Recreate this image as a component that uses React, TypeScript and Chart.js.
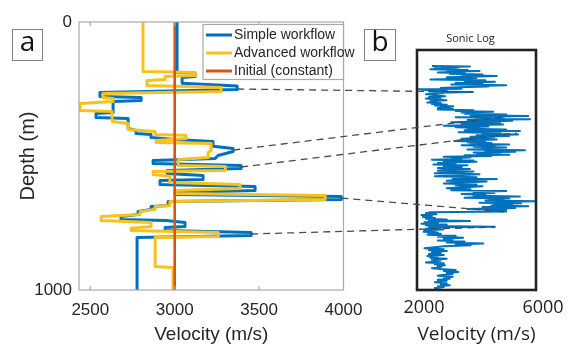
import React, { useEffect, useRef } from 'react';
import { Chart, registerables } from 'chart.js';

Chart.register(...registerables);

// ---------- Panel a : velocity profiles ----------
const simpleDepth = [0, 188, 190, 203, 207, 229, 239, 252, 263, 278, 282, 293, 297, 338, 341, 356, 360, 397, 405, 416, 420, 431, 438, 446, 464, 472, 483, 498, 509, 517, 528, 535, 547, 554, 565, 573, 588, 591, 606, 614, 629, 636, 644, 651, 662, 670, 685, 688, 700, 707, 718, 726, 737, 741, 748, 763, 767, 778, 785, 797, 804, 1000];
const simpleVelocity = [3014, 3014, 3121, 3121, 3044, 3044, 3370, 3370, 2557, 2557, 2801, 2801, 2635, 2635, 2534, 2534, 2724, 2724, 2771, 2771, 2860, 2860, 3002, 3227, 3227, 3346, 3346, 3257, 3240, 2872, 2872, 3393, 3393, 2955, 2955, 3168, 3168, 2913, 2913, 3476, 3476, 3002, 3002, 3987, 3987, 2961, 2961, 2860, 2860, 2783, 2783, 2682, 2682, 2949, 3061, 3061, 2943, 2943, 3453, 3453, 2777, 2777];

const advancedDepth = [0, 185, 188, 200, 203, 215, 218, 237, 244, 259, 267, 282, 285, 297, 304, 330, 334, 371, 379, 401, 409, 420, 423, 435, 442, 450, 453, 479, 487, 506, 513, 535, 539, 554, 558, 569, 576, 599, 606, 621, 629, 640, 647, 662, 670, 685, 688, 700, 707, 718, 726, 741, 748, 763, 770, 778, 785, 800, 804, 912, 916, 1000];
const advancedVelocity = [2812, 2812, 3121, 3121, 2943, 2943, 2836, 2836, 3275, 3275, 2575, 2575, 2635, 2635, 2439, 2439, 2629, 2629, 2724, 2724, 2884, 2884, 3067, 3067, 2890, 2890, 3216, 3216, 3198, 3198, 3021, 3021, 3300, 3300, 2872, 2872, 2972, 2972, 3387, 3387, 3002, 3002, 3891, 3891, 2972, 2972, 2884, 2884, 2795, 2795, 2564, 2564, 2860, 2860, 2742, 2742, 3258, 3258, 2884, 2884, 2990, 2990];

const initialDepth = [0, 1000];
const initialVelocity = [3000, 3000];

const velocityTicksA = [2500, 3000, 3500, 4000];
const depthTicksA = [0, 1000];

// ---------- Panel b : sonic log ----------
const sonicDepth = [67, 69, 71, 73, 75, 78, 80, 83, 86, 88, 91, 94, 96, 99, 102, 105, 108, 111, 114, 117, 120, 123, 126, 129, 132, 135, 138, 141, 144, 147, 150, 152, 155, 158, 161, 164, 167, 170, 173, 175, 178, 180, 184, 187, 190, 193, 196, 199, 202, 206, 209, 212, 216, 219, 221, 225, 228, 231, 234, 237, 240, 242, 245, 248, 251, 254, 257, 260, 263, 266, 269, 272, 275, 278, 280, 283, 286, 289, 292, 295, 298, 301, 304, 307, 310, 313, 316, 319, 322, 325, 328, 331, 334, 337, 340, 343, 346, 349, 352, 355, 358, 361, 364, 367, 370, 373, 376, 379, 382, 385, 388, 391, 394, 397, 400, 403, 406, 409, 412, 415, 418, 421, 424, 427, 430, 433, 436, 439, 442, 445, 448, 451, 454, 457, 460, 463, 466, 469, 471, 474, 477, 480, 484, 488, 492, 496, 499, 503, 506, 510, 514, 518, 522, 526, 530, 534, 538, 541, 545, 548, 552, 556, 560, 564, 568, 572, 576, 580, 584, 588, 592, 596, 600, 603, 607, 610, 613, 616, 619, 622, 624, 627, 630, 633, 636, 639, 642, 645, 648, 651, 654, 658, 662, 666, 670, 673, 676, 680, 684, 688, 692, 696, 700, 703, 706, 709, 712, 715, 718, 721, 724, 727, 730, 733, 736, 739, 742, 745, 748, 751, 754, 757, 760, 763, 766, 770, 774, 778, 782, 786, 790, 794, 798, 802, 806, 810, 814, 818, 822, 826, 830, 834, 838, 842, 846, 850, 854, 858, 862, 866, 870, 874, 878, 881, 885, 889, 893, 897, 901, 905, 909, 913, 917, 921, 925, 929, 933, 937, 941, 945, 949, 953, 957, 961, 964, 968, 972, 976, 980, 984, 988, 992, 996, 1000];
const sonicVelocity = [
  2500, 3780, 2900, 3400, 2600,
  3300, 2450, 3700, 3000, 4100, 3200, 2700, 3600,
  3100, 4200, 3500, 4680, 3800, 3000, 4000,
  3400, 2450, 4300, 3600, 4620, 3900, 3300,
  4200, 3150, 5000, 3900, 4400,
  3400, 2800, 3500, 2050, 2300, 3000, 2400, 3880, 2600, 2900,
  2300, 2700, 2500, 2950, 2400, 2800, 2300, 2600, 2990, 2450, 2700, 2350, 2800,
  2500, 3000, 2600, 3220, 2800, 3100, 2700,
  3200, 2700, 3900, 3300, 4560, 3500, 4000,
  3600, 5000, 3800, 5740, 4300, 3300, 4900,
  4000, 5800, 3700, 5200, 4200, 3150, 4800,
  3500, 4900, 3900, 2900, 4400, 3300, 4100,
  3700, 5000, 3600, 5460, 4200, 3400, 4800,
  4200, 5400, 4000, 5100, 3800, 4600, 4100,
  3500, 4680, 3900, 3250, 4300, 3700, 4500,
  3800, 5100, 3500, 4600, 3900, 5000, 4200,
  4600, 3700, 5630, 4300, 5300, 3900, 4800,
  4000, 5100, 3600, 4500, 2900, 3800, 3200,
  3500, 2500, 3900, 2900, 4000, 3100, 2700,
  3300, 2550, 3700, 2900, 3500, 2700, 3780, 3000,
  2700, 3900, 3100, 2600, 4100, 3300, 2600, 4000, 3200, 4680, 3400,
  3000, 4340, 3500, 2900, 4000, 3300, 4200, 3600, 3000,
  3800, 3150, 5000, 3900, 4600, 3500, 4300,
  3900, 5460, 4200, 3600, 5100, 4400, 4900,
  4300, 5960, 4800, 4100, 5500, 4600, 5200,
  4500, 5740, 4200, 5300, 3700, 5000, 4300, 5000,
  2450,
  2300, 2650, 2150, 2500, 2200, 2600,
  2300, 3000, 2400, 3780, 2800, 2250, 2700,
  2150, 3000, 2300, 2500, 4620, 2400, 2800,
  2300, 2880, 2250, 2600, 2220, 2700, 2400,
  2800, 2350, 3300, 2700, 3550, 2900, 3200,
  2700, 3600, 3000, 4230, 3300, 3800, 2900,
  2600, 2250, 2900, 2400, 3000, 2500, 2800,
  2400, 2900, 2350, 2700, 2450, 3000, 2500, 2800, 2600,
  2300, 2900, 2600, 2940, 2700, 2800, 2500,
  2800, 3300, 2900, 3390, 3000, 3200, 2850,
  2700, 3200, 2900, 3100, 2700, 3000, 2800,
  2600, 3000, 2800, 3100, 2700, 2900, 2600, 2800, 2750,
];
const velocityTicksB = [2000, 6000];

// ---------- Connectors (panel a point -> panel b point) ----------
const connectorVelocityA = [3370, 3346, 3393, 3987, 3453];
const connectorDepthA = [250, 478, 541, 657, 791];
const connectorVelocityB = [3882, 4890, 5360, 5024, 4621];
const connectorDepthB = [175, 279, 346, 675, 738];

const BLUE = '#0072BD';
const YELLOW = '#F9C21A';
const RED = '#D95319';
const FONT_A = "'Liberation Sans', Arial, sans-serif";
const FONT_B = "'Open Sans', 'Noto Sans', sans-serif";
const TEXT_A = '#262626';
const TEXT_B = '#1e1e1e';

const pts = (xs: number[], ys: number[]) => {
  const n = Math.min(xs.length, ys.length);
  const out: { x: number; y: number }[] = [];
  for (let i = 0; i < n; i++) out.push({ x: xs[i], y: ys[i] });
  return out;
};

const lineDs = (label: string, xs: number[], ys: number[], color: string, width: number) => ({
  label,
  data: pts(xs, ys),
  borderColor: color,
  backgroundColor: color,
  borderWidth: width,
  showLine: true,
  pointRadius: 0,
  pointHoverRadius: 0,
  fill: false,
  tension: 0,
  borderJoinStyle: 'round' as const,
  borderCapStyle: 'butt' as const,
});

const plain = (v: any) => String(v);

export default function App() {
  const refA = useRef<HTMLCanvasElement>(null);
  const refB = useRef<HTMLCanvasElement>(null);

  useEffect(() => {
    if (!refA.current || !refB.current) return;

    const frameA = {
      id: 'frameA',
      afterDraw(chart: any) {
        const { ctx, chartArea: ca } = chart;
        const xs = chart.scales.x;
        ctx.save();
        ctx.strokeStyle = '#A8A8A8';
        ctx.lineWidth = 1.2;
        ctx.strokeRect(ca.left, ca.top, ca.right - ca.left, ca.bottom - ca.top);
        ctx.beginPath();
        velocityTicksA.forEach((v) => {
          const px = xs.getPixelForValue(v);
          ctx.moveTo(px, ca.bottom);
          ctx.lineTo(px, ca.bottom - 4);
          ctx.moveTo(px, ca.top);
          ctx.lineTo(px, ca.top + 4);
        });
        ctx.stroke();
        // legend box (inside top-right)
        const lw = 140.5, lh = 55;
        const lx = ca.right - lw, ly = ca.top + 2.5;
        ctx.fillStyle = '#ffffff';
        ctx.fillRect(lx, ly, lw, lh);
        ctx.strokeStyle = '#A8A8A8';
        ctx.lineWidth = 1.2;
        ctx.strokeRect(lx, ly, lw, lh);
        const order = [2, 1, 0];
        order.forEach((di, k) => {
          const ds = chart.data.datasets[di];
          const yy = ly + 10.5 + k * 18;
          ctx.strokeStyle = ds.borderColor;
          ctx.lineWidth = 3;
          ctx.beginPath();
          ctx.moveTo(lx + 3, yy);
          ctx.lineTo(lx + 29, yy);
          ctx.stroke();
          ctx.fillStyle = TEXT_A;
          ctx.font = "14px 'Liberation Sans', Arial, sans-serif";
          ctx.textAlign = 'left';
          ctx.textBaseline = 'middle';
          ctx.fillText(ds.label, lx + 31, yy + 0.5);
        });
        // panel label "a"
        ctx.strokeStyle = '#808080';
        ctx.lineWidth = 1;
        ctx.strokeRect(12.5, 29.5, 30, 31);
        ctx.fillStyle = '#111';
        ctx.font = `28px ${FONT_B}`;
        ctx.textAlign = 'center';
        ctx.textBaseline = 'middle';
        ctx.fillText('a', 27.5, 43);
        ctx.restore();
      },
    };

    const chartA = new Chart(refA.current, {
      type: 'scatter',
      data: {
        datasets: [
          lineDs('Initial (constant)', initialVelocity, initialDepth, RED, 2.6),
          lineDs('Advanced workflow', advancedVelocity, advancedDepth, YELLOW, 3),
          lineDs('Simple workflow', simpleVelocity, simpleDepth, BLUE, 3),
        ],
      },
      options: {
        responsive: false,
        animation: false,
        devicePixelRatio: 1,
        layout: { padding: { left: 0, right: 225.5, top: 22, bottom: 0 } },
        plugins: { legend: { display: false }, tooltip: { enabled: false }, title: { display: false } },
        scales: {
          x: {
            type: 'linear',
            min: 2433,
            max: 4000,
            afterFit: (s: any) => { s.height = 58; },
            afterBuildTicks: (s: any) => { s.ticks = velocityTicksA.map((v) => ({ value: v })); },
            grid: { display: false, drawTicks: false },
            border: { display: false },
            ticks: { font: { family: FONT_A, size: 17 }, color: TEXT_A, padding: 10, maxRotation: 0, autoSkip: false, callback: plain },
            title: { display: true, text: 'Velocity (m/s)', font: { family: FONT_A, size: 19, lineHeight: 1 }, color: TEXT_A, padding: { top: 0, bottom: 3.5 } },
          },
          y: {
            type: 'linear',
            reverse: true,
            min: 0,
            max: 1000,
            afterFit: (s: any) => { s.width = 79; },
            afterBuildTicks: (s: any) => { s.ticks = depthTicksA.map((v) => ({ value: v })); },
            grid: { display: false, drawTicks: false },
            border: { display: false },
            ticks: { font: { family: FONT_A, size: 17 }, color: TEXT_A, padding: 7, autoSkip: false, callback: plain },
            title: { display: true, text: 'Depth (m)', font: { family: FONT_A, size: 20, lineHeight: 1 }, color: TEXT_A, padding: { top: 18, bottom: 0 } },
          },
        },
      } as any,
      plugins: [frameA],
    });

    const frameB = {
      id: 'frameB',
      afterDraw(chart: any) {
        const { ctx, chartArea: ca } = chart;
        ctx.save();
        ctx.strokeStyle = '#222';
        ctx.lineWidth = 2.6;
        ctx.strokeRect(ca.left, ca.top, ca.right - ca.left, ca.bottom - ca.top);
        ctx.fillStyle = TEXT_B;
        ctx.font = `11px ${FONT_B}`;
        ctx.textAlign = 'center';
        ctx.textBaseline = 'middle';
        ctx.fillText('Sonic Log', (ca.left + ca.right) / 2 - 6, ca.top - 11);
        ctx.strokeStyle = '#808080';
        ctx.lineWidth = 1;
        ctx.strokeRect(364.5, 29.5, 31, 31);
        ctx.fillStyle = '#111';
        ctx.font = `28px ${FONT_B}`;
        ctx.fillText('b', 380, 43);
        const ax = chartA.scales.x, ay = chartA.scales.y;
        const bx = chart.scales.x, by = chart.scales.y;
        ctx.strokeStyle = '#4a4a4a';
        ctx.lineWidth = 1.3;
        ctx.setLineDash([7, 5]);
        ctx.beginPath();
        for (let i = 0; i < connectorDepthA.length; i++) {
          ctx.moveTo(ax.getPixelForValue(connectorVelocityA[i]), ay.getPixelForValue(connectorDepthA[i]));
          ctx.lineTo(bx.getPixelForValue(connectorVelocityB[i]), by.getPixelForValue(connectorDepthB[i]));
        }
        ctx.stroke();
        ctx.restore();
      },
    };

    const chartB = new Chart(refB.current, {
      type: 'scatter',
      data: {
        datasets: [lineDs('Sonic Log', sonicVelocity, sonicDepth, BLUE, 2)],
      },
      options: {
        responsive: false,
        animation: false,
        devicePixelRatio: 1,
        layout: { padding: { left: 417, right: 33, top: 50, bottom: 0 } },
        plugins: { legend: { display: false }, tooltip: { enabled: false }, title: { display: false } },
        scales: {
          x: {
            type: 'linear',
            min: 2000,
            max: 6000,
            afterFit: (s: any) => { s.height = 58; },
            afterBuildTicks: (s: any) => { s.ticks = velocityTicksB.map((v) => ({ value: v })); },
            grid: { display: false, drawTicks: false },
            border: { display: false },
            ticks: { font: { family: FONT_B, size: 18 }, color: TEXT_B, padding: 7, labelOffset: 7, maxRotation: 0, autoSkip: false, callback: plain },
            title: { display: true, text: 'Velocity (m/s)', font: { family: FONT_B, size: 19, lineHeight: 1 }, color: TEXT_B, padding: { top: 0, bottom: 3.5 } },
          },
          y: { type: 'linear', display: false, reverse: true, min: 0, max: 1000 },
        },
      } as any,
      plugins: [frameB],
    });

    return () => {
      chartB.destroy();
      chartA.destroy();
    };
  }, []);

  const cs: React.CSSProperties = { position: 'absolute', left: 0, top: 0, width: 569, height: 348 };
  return (
    <div style={{ position: 'absolute', left: 0, top: 0, width: 569, height: 348, background: '#fff' }}>
      <canvas ref={refA} width={569} height={348} style={cs} />
      <canvas ref={refB} width={569} height={348} style={cs} />
    </div>
  );
}
